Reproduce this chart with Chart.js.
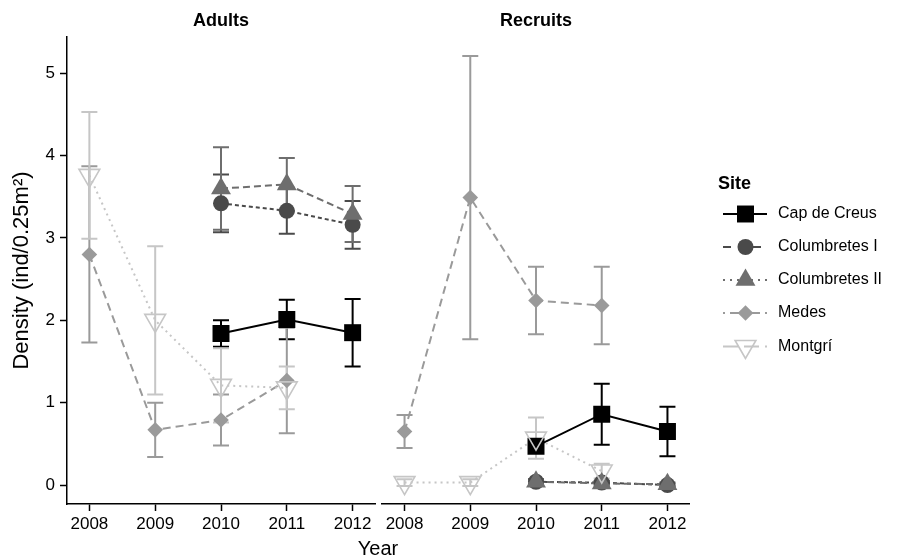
<!DOCTYPE html>
<html>
<head>
<meta charset="utf-8">
<title>Density by site</title>
<script src="https://cdn.jsdelivr.net/npm/chart.js@4/dist/chart.umd.min.js"></script>
<style>
  html, body { margin: 0; padding: 0; background: #fff; }
  #wrap { position: relative; width: 906px; height: 559px; }
  #wrap canvas { position: absolute; left: 0; top: 0; }
</style>
</head>
<body>
<div id="wrap">
  <canvas id="adults" width="906" height="559"></canvas>
  <canvas id="recruits" width="906" height="559"></canvas>
</div>
<script>
// ---- data ----
const years = [2008, 2009, 2010, 2011, 2012];
const yTicks = [0, 1, 2, 3, 4, 5];
const sites = ['Cap de Creus', 'Columbretes I', 'Columbretes II', 'Medes', 'Montgrí'];

// Adults: mean density (null = not sampled that year)
const adultsCapDeCreus    = [null, null, 1.84, 2.01, 1.85];
const adultsColumbretesI  = [null, null, 3.42, 3.33, 3.16];
const adultsColumbretesII = [null, null, 3.60, 3.65, 3.29];
const adultsMedes         = [2.80, 0.67, 0.79, 1.27, null];
const adultsMontgri       = [3.76, 2.00, 1.21, 1.18, null];
// Adults: standard error
const adultsCapDeCreusSE    = [null, null, 0.16, 0.24, 0.41];
const adultsColumbretesISE  = [null, null, 0.35, 0.28, 0.29];
const adultsColumbretesIISE = [null, null, 0.50, 0.32, 0.34];
const adultsMedesSE         = [1.07, 0.33, 0.31, 0.64, null];
const adultsMontgriSE       = [0.77, 0.90, 0.45, 0.26, null];

// Recruits: mean density
const recruitsCapDeCreus    = [null, null, 0.47, 0.86, 0.65];
const recruitsColumbretesI  = [null, null, 0.04, 0.03, 0.00];
const recruitsColumbretesII = [null, null, 0.04, 0.02, 0.01];
const recruitsMedes         = [0.65, 3.49, 2.24, 2.18, null];
const recruitsMontgri       = [0.03, 0.03, 0.57, 0.17, null];
// Recruits: standard error
const recruitsCapDeCreusSE    = [null, null, 0.06, 0.37, 0.30];
const recruitsColumbretesISE  = [null, null, 0.03, 0.02, 0.02];
const recruitsColumbretesIISE = [null, null, 0.03, 0.02, 0.02];
const recruitsMedesSE         = [0.20, 1.72, 0.41, 0.47, null];
const recruitsMontgriSE       = [0.04, 0.04, 0.25, 0.09, null];

// ---- styling ----
const FONT = "'Liberation Sans', Arial, Helvetica, sans-serif";
const siteColors   = ['#000000', '#4a4a4a', '#6e6e6e', '#9a9a9a', '#c6c6c6'];
const siteShapes   = ['rect', 'circle', 'triangle', 'rectRot', 'triangle'];
const siteRotation = [0, 0, 0, 0, 180];
const siteRadius   = [12, 8, 11.5, 7.8, 12];
const siteFilled   = [true, true, true, true, false];
const lineDash     = [[], [4, 3], [7, 4], [8, 5], [2, 4]];
const legendDash   = [[], [8, 7], [2, 5], [2, 5, 9, 5], [15, 6]];

function toPoints(vals) {
  return years.map((yr, i) => vals[i] == null ? null : { x: yr, y: vals[i] }).filter(Boolean);
}

function buildDatasets(means) {
  const ds = [];
  means.forEach((vals, i) => {
    // connecting line
    ds.push({
      label: sites[i] + ' line',
      data: toPoints(vals),
      showLine: true,
      borderColor: siteColors[i],
      borderWidth: 2,
      borderDash: lineDash[i],
      pointRadius: 0,
      pointHoverRadius: 0,
      fill: false,
      order: 100 - i
    });
    // markers
    ds.push({
      label: sites[i],
      data: toPoints(vals),
      showLine: false,
      pointStyle: siteShapes[i],
      pointRotation: siteRotation[i],
      pointRadius: siteRadius[i],
      pointHoverRadius: siteRadius[i],
      pointBorderWidth: siteFilled[i] ? 0 : 1.6,
      pointBackgroundColor: siteFilled[i] ? siteColors[i] : 'rgba(0,0,0,0)',
      pointBorderColor: siteColors[i],
      order: 50 - i
    });
  });
  return ds;
}

// vertical error bars with caps, drawn beneath the lines and markers
function errorBarPlugin(means, ses) {
  return {
    id: 'errorBars',
    beforeDatasetsDraw(chart) {
      const { ctx, scales: { x, y } } = chart;
      ctx.save();
      ctx.lineWidth = 2;
      means.forEach((vals, s) => {
        ctx.strokeStyle = siteColors[s];
        vals.forEach((m, i) => {
          if (m == null || ses[s][i] == null) return;
          const px = x.getPixelForValue(years[i]);
          const top = y.getPixelForValue(m + ses[s][i]);
          const bot = y.getPixelForValue(m - ses[s][i]);
          ctx.beginPath();
          ctx.moveTo(px, top); ctx.lineTo(px, bot);
          ctx.moveTo(px - 8, top); ctx.lineTo(px + 8, top);
          ctx.moveTo(px - 8, bot); ctx.lineTo(px + 8, bot);
          ctx.stroke();
        });
      });
      ctx.restore();
    }
  };
}

// panel heading centred over the plotting area
function stripPlugin(text) {
  return {
    id: 'strip',
    afterDraw(chart) {
      const { ctx, chartArea } = chart;
      ctx.save();
      ctx.font = 'bold 18px ' + FONT;
      ctx.fillStyle = '#000';
      ctx.textAlign = 'center';
      ctx.textBaseline = 'middle';
      ctx.fillText(text, (chartArea.left + chartArea.right) / 2, 21);
      ctx.restore();
    }
  };
}

// shared x-axis title and the site key
const keyPlugin = {
  id: 'siteKey',
  afterDraw(chart) {
    const ctx = chart.ctx;
    ctx.save();
    ctx.fillStyle = '#000';
    ctx.font = '20px ' + FONT;
    ctx.textAlign = 'center';
    ctx.textBaseline = 'alphabetic';
    ctx.fillText('Year', 378, 555);

    ctx.textAlign = 'left';
    ctx.textBaseline = 'middle';
    ctx.font = 'bold 18px ' + FONT;
    ctx.fillText('Site', 718, 184);

    const rowY = [214, 247, 280, 313, 346.5];
    sites.forEach((name, i) => {
      const yy = rowY[i];
      ctx.strokeStyle = siteColors[i];
      ctx.lineWidth = 2;
      ctx.setLineDash(legendDash[i]);
      ctx.beginPath();
      ctx.moveTo(723, yy); ctx.lineTo(767, yy);
      ctx.stroke();
      ctx.setLineDash([]);
      ctx.fillStyle = siteFilled[i] ? siteColors[i] : 'rgba(0,0,0,0)';
      ctx.lineWidth = 1.6;
      Chart.helpers.drawPoint(ctx, {
        pointStyle: siteShapes[i],
        radius: siteRadius[i],
        rotation: siteRotation[i],
        borderWidth: siteFilled[i] ? 0 : 1.6
      }, 745.5, yy);
      ctx.fillStyle = '#000';
      ctx.font = '16px ' + FONT;
      ctx.fillText(name, 778, yy);
    });
    ctx.restore();
  }
};

function makeChart(id, means, ses, title, padLeft, padRight, showY, extra) {
  const plugins = [errorBarPlugin(means, ses), stripPlugin(title)];
  if (extra) plugins.push(extra);
  return new Chart(document.getElementById(id), {
    type: 'scatter',
    data: { datasets: buildDatasets(means) },
    plugins,
    options: {
      responsive: false,
      animation: false,
      devicePixelRatio: 1,
      events: [],
      layout: { padding: { left: padLeft, right: padRight, top: 37, bottom: 0 } },
      plugins: { legend: { display: false }, tooltip: { enabled: false } },
      scales: {
        x: {
          type: 'linear',
          min: 2007.66,
          max: 2012.34,
          afterBuildTicks: s => { s.ticks = years.map(v => ({ value: v })); },
          afterFit: s => { s.height = 55; },
          ticks: {
            callback: v => String(v),
            color: '#000',
            font: { family: FONT, size: 17 },
            padding: 3,
            maxRotation: 0,
            autoSkip: false
          },
          grid: { display: true, drawOnChartArea: false, drawTicks: true, tickLength: 7, tickColor: '#000', tickWidth: 1.5 },
          border: { display: true, color: '#000', width: 1.5 }
        },
        y: {
          type: 'linear',
          display: showY,
          min: -0.23,
          max: 5.44,
          afterBuildTicks: s => { s.ticks = yTicks.map(v => ({ value: v })); },
          afterFit: s => { if (showY) s.width = 67; },
          ticks: {
            callback: v => String(v),
            color: '#000',
            font: { family: FONT, size: 17 },
            padding: 5
          },
          grid: { display: true, drawOnChartArea: false, drawTicks: true, tickLength: 7, tickColor: '#000', tickWidth: 1.5 },
          border: { display: true, color: '#000', width: 1.5 },
          title: {
            display: true,
            text: 'Density (ind/0.25m²)',
            color: '#000',
            font: { family: FONT, size: 22 },
            padding: { top: 9, bottom: 0 }
          }
        }
      }
    }
  });
}

makeChart('adults',
  [adultsCapDeCreus, adultsColumbretesI, adultsColumbretesII, adultsMedes, adultsMontgri],
  [adultsCapDeCreusSE, adultsColumbretesISE, adultsColumbretesIISE, adultsMedesSE, adultsMontgriSE],
  'Adults', 0, 906 - 375, true, null);

makeChart('recruits',
  [recruitsCapDeCreus, recruitsColumbretesI, recruitsColumbretesII, recruitsMedes, recruitsMontgri],
  [recruitsCapDeCreusSE, recruitsColumbretesISE, recruitsColumbretesIISE, recruitsMedesSE, recruitsMontgriSE],
  'Recruits', 382.2, 906 - 689.8, false, keyPlugin);
</script>
</body>
</html>
